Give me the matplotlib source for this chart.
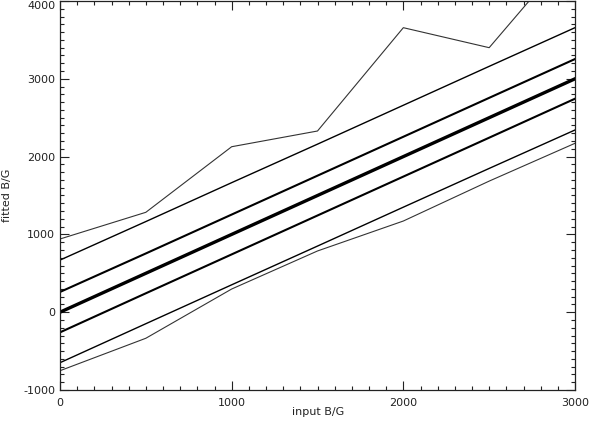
import matplotlib.pyplot as plt
from matplotlib.ticker import MultipleLocator

# input field values (B/G)
x_input = [0, 500, 1000, 1500, 2000, 2500, 3000]

# fitted values: max / min sample curves and bands
fit_max = [941, 1284, 2127, 2329, 3657, 3400, 4690]
band_hi2 = [670, 1165, 1665, 2160, 2660, 3160, 3657]
band_hi1 = [260, 755, 1255, 1755, 2255, 2755, 3254]
fit_mean = [0, 500, 1000, 1500, 2000, 2500, 3000]
band_lo1 = [-259, 243, 743, 1243, 1743, 2243, 2744]
band_lo2 = [-649, -148, 352, 850, 1350, 1848, 2342]
fit_min = [-752, -335, 298, 787, 1172, 1685, 2171]

y_ticks = [-1000, 0, 1000, 2000, 3000, 4000]

fig = plt.figure(figsize=(5.89, 4.23), dpi=100)
ax = fig.add_axes([60/589, 33/423, 515/589, 389/423])

ax.plot(x_input, fit_max, color='#333333', lw=0.8)
ax.plot(x_input, fit_min, color='#333333', lw=0.8)
ax.plot(x_input, band_hi2, color='black', lw=1.0)
ax.plot(x_input, band_lo2, color='black', lw=1.0)
ax.plot(x_input, band_hi1, color='black', lw=1.5)
ax.plot(x_input, band_lo1, color='black', lw=1.5)
ax.plot(x_input, fit_mean, color='black', lw=2.4)

ax.set_xlim(0, 3000)
ax.set_ylim(-1000, 4000)
ax.xaxis.set_major_locator(MultipleLocator(1000))
ax.xaxis.set_minor_locator(MultipleLocator(100))
ax.set_yticks(y_ticks, [str(v) for v in y_ticks])
ax.yaxis.set_minor_locator(MultipleLocator(100))

ax.tick_params(which='both', direction='in', top=True, right=True,
               colors='#222222', labelsize=8)
ax.tick_params(which='major', length=6.5, width=0.8)
ax.tick_params(which='minor', length=3, width=0.8)
ax.tick_params(axis='x', pad=6)
ax.tick_params(axis='y', pad=3.5)
for s in ax.spines.values():
    s.set_linewidth(0.9)
    s.set_color('#222222')

# top label pushed down so it stays inside the figure
ax.get_yticklabels()[-1].set_verticalalignment('top')

fig.text(318/589, 1 - 412/423, 'input B/G', ha='center', va='center',
         fontsize=8, color='#222222')
fig.text(7/589, 1 - 195/423, 'fitted B/G', ha='center', va='center',
         rotation=90, fontsize=8, color='#222222')

fig.savefig('out.png', dpi=100)
